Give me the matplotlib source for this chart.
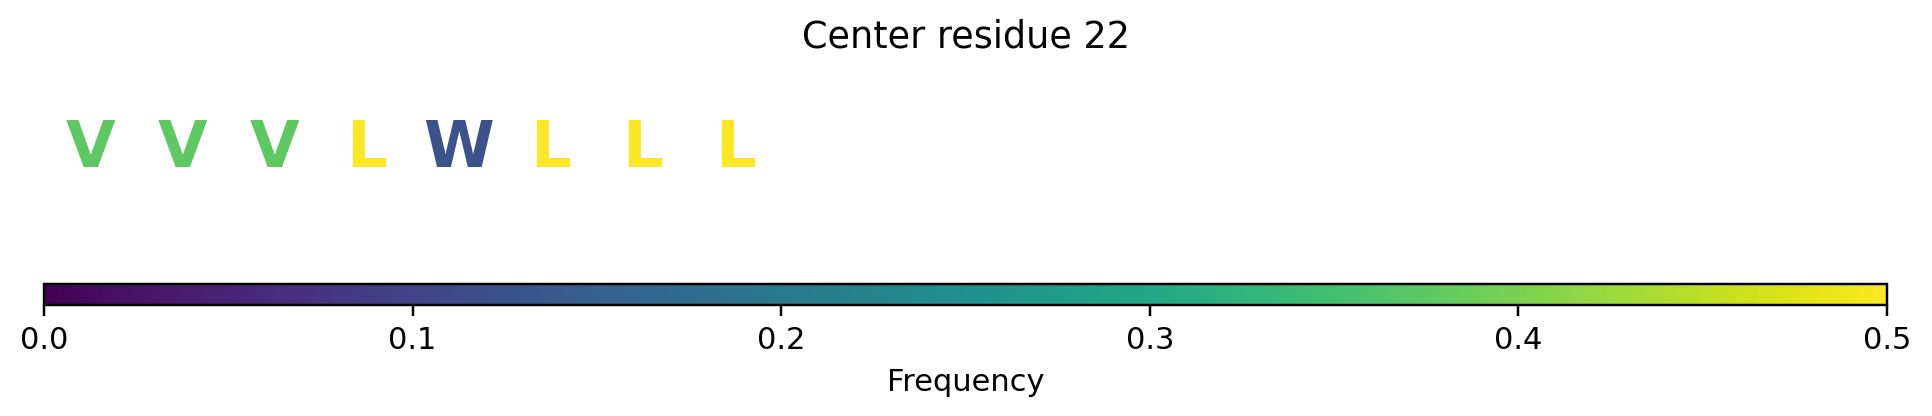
import matplotlib
matplotlib.use("Agg")
import matplotlib.pyplot as plt
import numpy as np

# most common residue per position and its frequency
residues = ['V', 'V', 'V', 'L', 'W', 'L', 'L', 'L']
freqs = [0.375, 0.375, 0.375, 0.5, 0.125, 0.5, 0.5, 0.5]
n_positions = 20
center_residue = 22
vmax = 0.5
cbar_ticks = [0.0, 0.1, 0.2, 0.3, 0.4, 0.5]

W, H, DPI = 1932, 416, 220
fig = plt.figure(figsize=(W / DPI, H / DPI), dpi=DPI)

cmap = plt.get_cmap('viridis')
norm = matplotlib.colors.Normalize(vmin=0, vmax=vmax)

left = 44 / W
width = 1843 / W

# letters
ax = fig.add_axes([left, 0.35, width, 0.5])
ax.set_xlim(-0.5, n_positions - 0.5)
ax.set_ylim(0, 1)
ax.axis('off')
base_y = (H - 167) / H
y_ax = (base_y - 0.35) / 0.5
for i, (res, f) in enumerate(zip(residues, freqs)):
    ax.text(i, y_ax, res, ha='center', va='baseline', fontsize=21,
            fontweight='bold', color=cmap(norm(f)))

fig.text(0.5, 1 - 37 / H, f"Center residue {center_residue}",
         ha='center', va='center', fontsize=12)

# colorbar
cax = fig.add_axes([left, (H - 305) / H, width, 21 / H])
sm = matplotlib.cm.ScalarMappable(norm=norm, cmap=cmap)
cb = fig.colorbar(sm, cax=cax, orientation='horizontal', ticks=cbar_ticks)
cb.ax.tick_params(labelsize=10)
cb.set_label('Frequency', fontsize=10)

fig.savefig('out.png', dpi=DPI)
